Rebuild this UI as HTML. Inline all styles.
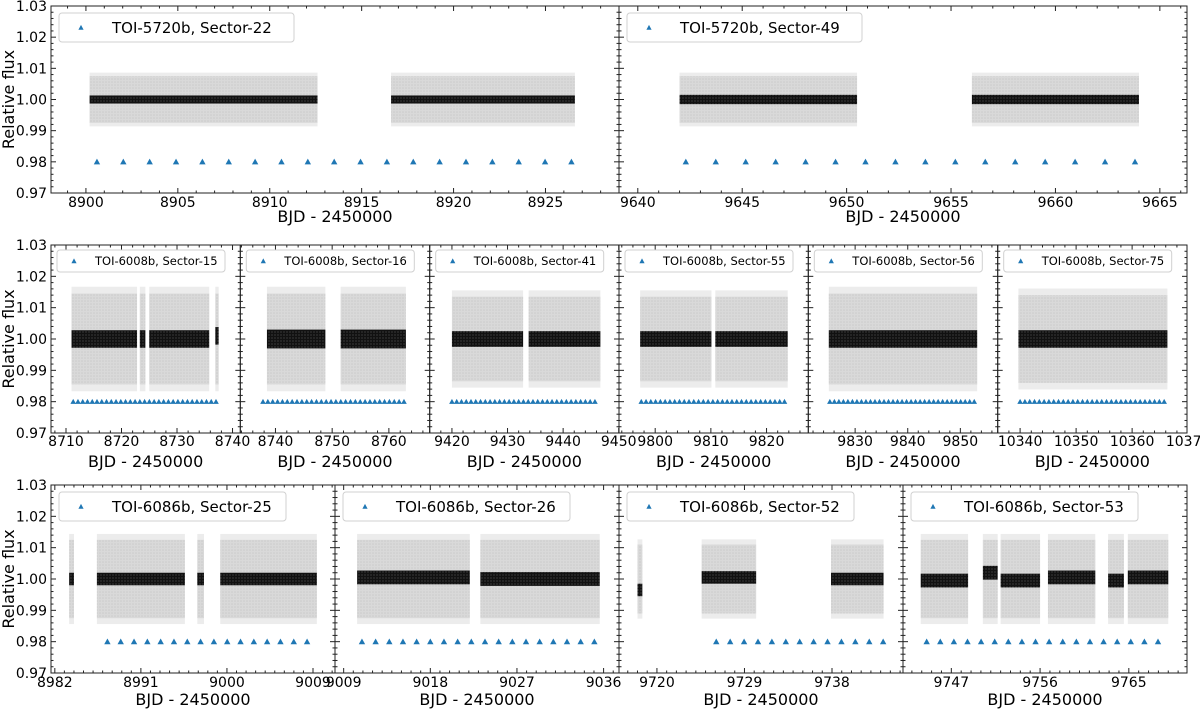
<!DOCTYPE html>
<html><head><meta charset="utf-8"><style>
html,body{margin:0;padding:0;background:#fff;}
svg{display:block;font-family:"DejaVu Sans","Liberation Sans",sans-serif;}
</style></head>
<body>
<svg id="fig" width="1200" height="709" viewBox="0 0 1200 709" xmlns="http://www.w3.org/2000/svg">
<defs>
<pattern id="grayDots" width="3" height="3" patternUnits="userSpaceOnUse"><rect width="3" height="3" fill="#d9d9d9"/><circle cx="1" cy="1" r="0.8" fill="#cbcbcb"/></pattern>
<pattern id="blackDots" width="3" height="3" patternUnits="userSpaceOnUse"><rect width="3" height="3" fill="#111"/><circle cx="2" cy="2" r="0.6" fill="#555"/></pattern>
</defs>
</svg>
<script>
// ---- data ----
const panelLabels = ["TOI-5720b, Sector-22","TOI-5720b, Sector-49",
 "TOI-6008b, Sector-15","TOI-6008b, Sector-16","TOI-6008b, Sector-41","TOI-6008b, Sector-55","TOI-6008b, Sector-56","TOI-6008b, Sector-75",
 "TOI-6086b, Sector-25","TOI-6086b, Sector-26","TOI-6086b, Sector-52","TOI-6086b, Sector-53"];
const panelRow = [0,0,1,1,1,1,1,1,2,2,2,2];
const xMin = [8898.1,9639.1,8707.3,8733.8,9416.0,9793.5,9821.1,10336.0,8981.6,9008.1,9716.1,9742.1];
const xMax = [8929.0,9666.3,8741.4,8767.2,9450.05,9827.5,9857.1,10369.8,9011.3,9037.6,9745.3,9770.9];
const xTicks = [[8900,8905,8910,8915,8920,8925],[9640,9645,9650,9655,9660,9665],
 [8710,8720,8730,8740],[8740,8750,8760],[9420,9430,9440,9450],[9800,9810,9820],[9830,9840,9850],[10340,10350,10360,10370],
 [8982,8991,9000,9009],[9009,9018,9027,9036],[9720,9729,9738],[9747,9756,9765]];
const xMinorStep = [1,1,2,2,2,2,2,2,1,1,1,1];
const yTicks = [0.97,0.98,0.99,1.00,1.01,1.02,1.03];
const yTickLabels = ["0.97","0.98","0.99","1.00","1.01","1.02","1.03"];
const graySegments = [
 [[8900.2,8912.6],[8916.6,8926.6]],
 [[9642.0,9650.5],[9656.0,9664.0]],
 [[8711.0,8722.8],[8723.3,8724.3],[8725.0,8735.8],[8736.9,8737.5]],
 [[8738.5,8748.8],[8751.5,8763.0]],
 [[9420.0,9432.8],[9433.8,9446.7]],
 [[9797.3,9810.1],[9810.8,9823.8]],
 [[9825.0,9853.2]],
 [[10339.7,10366.3]],
 [[8983.5,8984.0],[8986.4,8995.6],[8996.9,8997.6],[8999.3,9009.4]],
 [[9010.4,9022.1],[9023.2,9035.6]],
 [[9718.0,9718.5],[9724.6,9730.2],[9737.9,9743.3]],
 [[9743.9,9748.7],[9750.2,9751.7],[9752.0,9756.0],[9756.8,9761.6],[9762.9,9764.5],[9764.9,9769.0]]];
const binnedLevels = [
 [1.0,1.0],[1.0,1.0],
 [1.0,1.0,1.0,1.001],[1.0,1.0],[1.0,1.0],[1.0,1.0],[1.0],[1.0],
 [1.0,1.0,1.0,1.0],[1.0005,1.0],[0.9965,1.0005,1.0],[0.9995,1.002,0.9995,1.0005,0.9995,1.0005]];
const grayHalfWidth = [0.0075,0.0075,0.0145,0.0145,0.0135,0.0135,0.0145,0.014,0.0125,0.0125,0.011,0.0125];
const binnedHalfWidth = [0.0013,0.0015,0.0028,0.003,0.0025,0.0025,0.0028,0.0028,0.002,0.0022,0.002,0.0022];
const transitT0 = [8900.6,9642.3,8711.3,8737.8,9420.0,9797.5,9825.2,10340.0,8987.5,9010.9,9726.1,9744.5];
const transitPeriod = [1.434,1.434,0.8574,0.8574,0.8574,0.8574,0.8574,0.8574,1.392,1.42,1.43,1.38];
const transitCount = [19,16,31,30,31,31,33,31,16,18,13,18];
const transitLevel = 0.98;

// ---- layout ----
const rowTop = [6,245,485], rowBottom = [193,433,673];
const panelLeft = [51,619, 51,240.3,429.7,619,808.3,997.7, 51,335,619,903];
const panelRight = [619,1187, 240.3,429.7,619,808.3,997.7,1187, 335,619,903,1187];
const legendW = [235,235,168,168,168,168,168,168,227,227,227,227];
const tickLabelBase = [14,13,14];
const xTitleBase = [222,467,705];
const NS = "http://www.w3.org/2000/svg";
const svg = document.getElementById('fig');
function mk(tag, attrs, parent){const e=document.createElementNS(NS,tag);for(const k in attrs)e.setAttribute(k,attrs[k]);(parent||svg).appendChild(e);return e;}

for(let p=0;p<panelLabels.length;p++){
  const r=panelRow[p], L=panelLeft[p], R=panelRight[p], T=rowTop[r], B=rowBottom[r];
  const big = r!==1;
  const xs = v => L + (v - xMin[p])/(xMax[p]-xMin[p])*(R-L);
  const ys = v => T + (1.03 - v)/0.06*(B-T);
  const g = mk('g',{});
  
  
  graySegments[p].forEach((s,i)=>{
    const hw=grayHalfWidth[p];
    const o=mk('rect',{x:xs(s[0]),y:ys(1+hw*1.15),width:Math.max(1.5,xs(s[1])-xs(s[0])),height:ys(1-hw*1.15)-ys(1+hw*1.15),fill:'#ececec'},g);
    
    
    const e=mk('rect',{x:xs(s[0]),y:ys(1+hw),width:Math.max(1.5,xs(s[1])-xs(s[0])),height:ys(1-hw)-ys(1+hw),fill:'url(#grayDots)'},g);
    
    
  });
  graySegments[p].forEach((s,i)=>{
    const lv=binnedLevels[p][i], hw=binnedHalfWidth[p];
    const e=mk('rect',{x:xs(s[0]),y:ys(lv+hw),width:Math.max(2,xs(s[1])-xs(s[0])),height:ys(lv-hw)-ys(lv+hw),fill:'url(#blackDots)'},g);
    
    
  });
  for(let k=0;k<transitCount[p];k++){
    const cx=xs(transitT0[p]+k*transitPeriod[p]), cy=ys(transitLevel), s=big?3.2:2.8;
    const t=mk('polygon',{points:`${cx-s},${cy+s*0.8} ${cx+s},${cy+s*0.8} ${cx},${cy-s*1.0}`,fill:'#1f77b4'},g);
    
    
  }
  const fr=mk('rect',{x:L,y:T,width:R-L,height:B-T,fill:'none',stroke:'#222','stroke-width':1},g);
  
  
  for(let v=0.97;v<=1.0301;v+=0.002){
    const yy=ys(v), major=Math.abs(Math.round(v*100)-v*100)<1e-6, len=major?5:2.5;
    mk('line',{x1:L,x2:L+len,y1:yy,y2:yy,stroke:'#222','stroke-width':1},g);
    mk('line',{x1:R,x2:R-len,y1:yy,y2:yy,stroke:'#222','stroke-width':1},g);
  }
  if(p===0||p===2||p===8){
    yTicks.forEach((v,i)=>{
      const t=mk('text',{x:L-4,y:ys(v)+5,'text-anchor':'end','font-size':14,fill:'#000'},g);
      t.textContent=yTickLabels[i];
      
      
    });
    const yl=mk('text',{x:0,y:0,transform:`translate(14,${(T+B)/2}) rotate(-90)`,'text-anchor':'middle','font-size':16,fill:'#000'},g);
    yl.textContent='Relative flux';
    
    
  }
  const st=xMinorStep[p];
  for(let v=Math.ceil(xMin[p]/st)*st; v<=xMax[p]; v+=st){
    const xx=xs(v), major=xTicks[p].includes(v), len=major?5:2.5;
    mk('line',{x1:xx,x2:xx,y1:B,y2:B-len,stroke:'#222','stroke-width':1},g);
    mk('line',{x1:xx,x2:xx,y1:T,y2:T+len,stroke:'#222','stroke-width':1},g);
  }
  xTicks[p].forEach(v=>{
    const t=mk('text',{x:xs(v),y:B+tickLabelBase[r],'text-anchor':'middle','font-size':14,fill:'#000'},g);
    t.textContent=String(v);
    
    
  });
  const xl=mk('text',{x:(L+R)/2,y:xTitleBase[r],'text-anchor':'middle','font-size':16,fill:'#000'},g);
  xl.textContent='BJD - 2450000';
  
  
  const lg=mk('g',{},g);
  
  
  const lx=L+(big?8:6), ly=T+(big?7:5), lh=big?29:22;
  mk('rect',{x:lx,y:ly,width:legendW[p],height:lh,rx:3,fill:'#fff',stroke:'#d0d0d0','stroke-width':1},lg);
  const mx=lx+(big?22:17), my=ly+lh/2;
  mk('polygon',{points:`${mx-2.6},${my+2.2} ${mx+2.6},${my+2.2} ${mx},${my-2.6}`,fill:'#1f77b4'},lg);
  const lt=mk('text',{x:lx+(big?53:38),y:my+(big?5.5:4),'font-size':big?15:11.5,fill:'#000'},lg);
  lt.textContent=panelLabels[p];
  
  
}
</script>
</body></html>
